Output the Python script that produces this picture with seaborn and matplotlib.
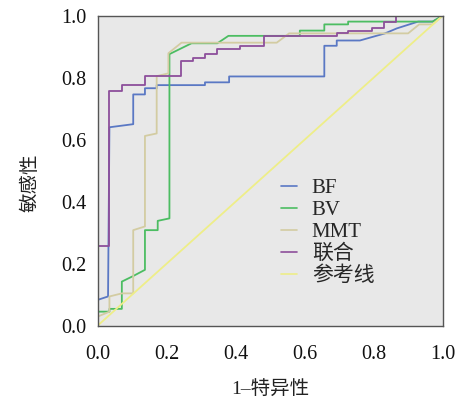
import matplotlib
matplotlib.use("Agg")
import matplotlib.pyplot as plt
import seaborn as sns
import pandas as pd

# ---- data ----
bf_x = [0, 0, 0.03, 0.034, 0.103, 0.103, 0.137, 0.137, 0.171, 0.171, 0.311, 0.311, 0.381, 0.381,
        0.657, 0.657, 0.693, 0.693, 0.76, 0.833, 0.867, 0.929, 0.971, 1.0]
bf_y = [0, 0.083, 0.094, 0.64, 0.65, 0.746, 0.746, 0.766, 0.766, 0.776, 0.776, 0.785, 0.785, 0.804,
        0.804, 0.903, 0.903, 0.92, 0.92, 0.943, 0.959, 0.981, 0.981, 1.0]

bv_x = [0, 0, 0.034, 0.034, 0.07, 0.07, 0.103, 0.137, 0.137, 0.174, 0.174, 0.208, 0.208, 0.272,
        0.347, 0.379, 0.586, 0.586, 0.657, 0.657, 0.726, 0.726, 0.971, 1.0]
bv_y = [0, 0.045, 0.045, 0.054, 0.054, 0.142, 0.16, 0.18, 0.308, 0.308, 0.338, 0.346, 0.876, 0.911,
        0.911, 0.935, 0.935, 0.952, 0.952, 0.972, 0.972, 0.981, 0.981, 1.0]

mmt_x = [0, 0, 0.034, 0.034, 0.07, 0.103, 0.103, 0.137, 0.137, 0.171, 0.171, 0.205, 0.205, 0.243,
         0.519, 0.555, 0.9, 0.932, 0.971, 1.0]
mmt_y = [0, 0.029, 0.045, 0.094, 0.104, 0.104, 0.308, 0.32, 0.612, 0.62, 0.805, 0.814, 0.879, 0.913,
         0.913, 0.943, 0.943, 0.972, 0.972, 1.0]

comb_x = [0, 0, 0.034, 0.034, 0.07, 0.07, 0.137, 0.137, 0.241, 0.241, 0.277, 0.277, 0.311, 0.311,
          0.347, 0.347, 0.414, 0.414, 0.482, 0.482, 0.693, 0.693, 0.726, 0.726, 0.796, 0.796,
          0.83, 0.83, 0.865, 0.865, 1.0]
comb_y = [0, 0.258, 0.258, 0.757, 0.757, 0.776, 0.776, 0.805, 0.805, 0.854, 0.854, 0.865, 0.865, 0.875,
          0.875, 0.894, 0.894, 0.903, 0.903, 0.935, 0.935, 0.943, 0.943, 0.952, 0.952, 0.961,
          0.961, 0.981, 0.981, 1.0, 1.0]

ref_x = [0, 1]
ref_y = [0, 1]

labels = ["BF", "BV", "MMT", "联合", "参考线"]
colors = ["#5a78c4", "#4cbd62", "#d3cca2", "#8d4f9b", "#eeee88"]
xticks = [0.0, 0.2, 0.4, 0.6, 0.8, 1.0]
yticks = [0.0, 0.2, 0.4, 0.6, 0.8, 1.0]
x_label = "1–特异性"
y_label = "敏感性"

series = [(bf_x, bf_y), (bv_x, bv_y), (mmt_x, mmt_y), (comb_x, comb_y), (ref_x, ref_y)]
rows = []
for lab, (xs, ys) in zip(labels, series):
    for i, (a, b) in enumerate(zip(xs, ys)):
        rows.append({"x": a, "y": b, "curve": lab, "order": i})
df = pd.DataFrame(rows)

sns.set_theme(style="white")
plt.rcParams["font.family"] = ["Liberation Serif", "Noto Sans CJK SC"]

fig = plt.figure(figsize=(4.63, 4.07), dpi=100)
ax = fig.add_axes([0.211, 0.2, 0.745, 0.7614])
ax.set_facecolor("#e8e8e8")

sns.lineplot(data=df, x="x", y="y", hue="curve", hue_order=labels,
             palette=dict(zip(labels, colors)), sort=False, estimator=None,
             units="curve", linewidth=1.3, ax=ax)

ax.set_xlim(0, 1)
ax.set_ylim(0, 1)
ax.set_xticks(xticks)
ax.set_yticks(yticks)
ax.set_xticklabels([f"{t:.1f}" for t in xticks])
ax.set_yticklabels([f"{t:.1f}" for t in yticks])
ax.tick_params(axis="both", direction="in", length=4, width=1, colors="#111111",
               labelsize=14.5, labelcolor="#111111")
ax.tick_params(axis="x", pad=14)
ax.tick_params(axis="y", pad=8)
for s in ax.spines.values():
    s.set_color("#555555")
    s.set_linewidth(1.0)

ax.set_xlabel(x_label, fontsize=14, labelpad=12, color="#222222")
ax.set_ylabel(y_label, fontsize=14, color="#222222")
ax.yaxis.set_label_coords(-0.17, 0.46)

leg = ax.legend(loc="upper left", bbox_to_anchor=(0.53, 0.475), frameon=False,
                fontsize=15, handlelength=0.8, handletextpad=0.7, labelspacing=0.12,
                borderaxespad=0, borderpad=0)
for h in leg.get_lines():
    h.set_linewidth(1.2)

fig.savefig("out.png", dpi=100)
